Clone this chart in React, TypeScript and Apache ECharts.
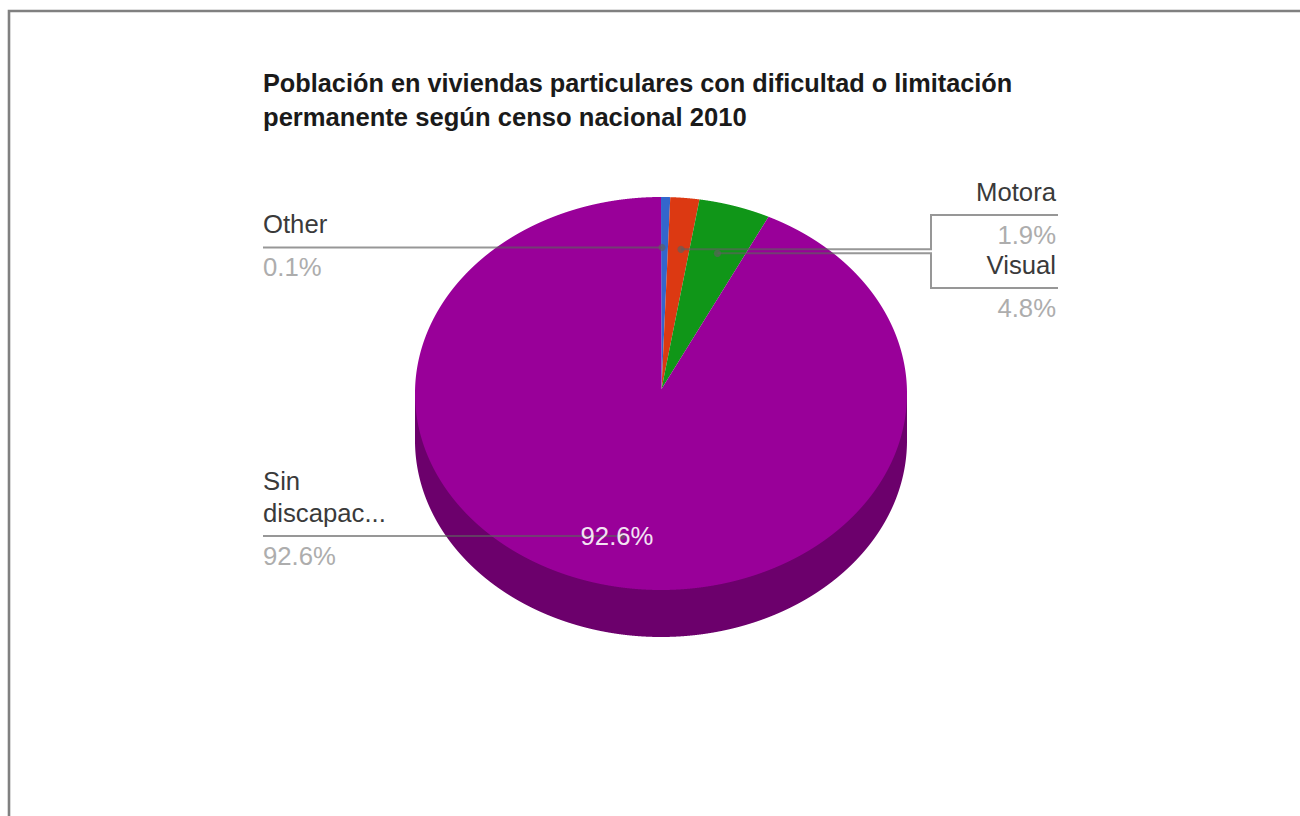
import React, { useEffect, useRef } from "react";
import * as echarts from "echarts";

const titleLines = [
  "Población en viviendas particulares con dificultad o limitación",
  "permanente según censo nacional 2010",
];
const sliceNames = ["Other", "Motora", "Visual", "Sin discapacidad"];
const sliceShares = [0.6, 1.9, 4.7, 92.8];
// Percentages as printed in the labels
const percentLabels = ["0.1%", "1.9%", "4.8%", "92.6%"];
const sliceColors = ["#3366cc", "#dc3912", "#109618", "#990099"];
const wallColor = "#6c006c";

const FONT = '"Liberation Sans", Arial, sans-serif';
const CX = 661;
const CY = 393.5;
const RX = 246;
const RY = 196.5;
const DEPTH = 47;
const APEX = [661.5, 389];
const NAME = "#3a3a3a";
const PCT = "#adadad";
const LINE = "#5f5f5f";
const LABEL_SIZE = 25.7;

const sum = sliceShares.reduce((a, b) => a + b, 0);

function arcPoints(from: number, to: number, dy = 0): number[][] {
  const steps = Math.max(4, Math.ceil((to - from) * 160));
  const out: number[][] = [];
  for (let i = 0; i <= steps; i++) {
    const t = ((from + ((to - from) * i) / steps) / sum) * 2 * Math.PI;
    out.push([CX + RX * Math.sin(t), CY + dy - RY * Math.cos(t)]);
  }
  return out;
}

function wallItem() {
  const lower = arcPoints(sum / 4, (sum * 3) / 4, DEPTH);
  const points = [[CX + RX, CY], ...lower, [CX - RX, CY]];
  return { type: "polygon", shape: { points }, style: { fill: wallColor } };
}

function sliceItem(params: any, api: any) {
  const i = params.dataIndex;
  let from = 0;
  for (let k = 0; k < i; k++) from += sliceShares[k];
  const to = from + (api.value(0) as number);
  return {
    type: "polygon",
    shape: { points: [APEX, ...arcPoints(from, to)] },
    style: { fill: sliceColors[i] },
  };
}

function line(points: number[][]) {
  return {
    type: "polyline",
    z: 50,
    shape: { points },
    style: { stroke: LINE, lineWidth: 2, fill: "none", opacity: 0.65 },
  };
}
function dot(x: number, y: number) {
  return {
    type: "circle",
    z: 51,
    shape: { cx: x, cy: y, r: 3.6 },
    style: { fill: LINE, opacity: 0.65 },
  };
}
function label(text: string, x: number, y: number, fill: string, align = "left") {
  return {
    type: "text",
    z: 60,
    x,
    y,
    style: { text, fill, font: `${LABEL_SIZE}px ${FONT}`, align, verticalAlign: "middle" },
  };
}

export default function App() {
  const ref = useRef<HTMLDivElement>(null);
  useEffect(() => {
    const chart = echarts.init(ref.current!, undefined, { renderer: "svg" });
    chart.setOption({
      animation: false,
      backgroundColor: "#ffffff",
      title: {
        text: titleLines[0],
        subtext: titleLines[1],
        left: 263,
        top: 70,
        padding: 0,
        itemGap: 9,
        textStyle: {
          fontFamily: FONT,
          fontWeight: "bold",
          fontSize: 25.3,
          color: "#1a1a1a",
        },
        subtextStyle: {
          fontFamily: FONT,
          fontWeight: "bold",
          fontSize: 25.6,
          color: "#1a1a1a",
        },
      },
      series: [
        {
          type: "custom",
          coordinateSystem: "none",
          silent: true,
          data: [[sliceShares[3]]],
          renderItem: wallItem,
        },
        {
          type: "custom",
          coordinateSystem: "none",
          silent: true,
          data: sliceShares.map((v, i) => ({ name: sliceNames[i], value: [v] })),
          renderItem: sliceItem,
        },
      ],
      graphic: [
        {
          type: "polyline",
          shape: { points: [[9, 816], [9, 11], [1300, 11]] },
          style: { stroke: "#808080", lineWidth: 2.6, fill: "none" },
          z: 40,
        },
        line([[263, 247.5], [662, 247.5]]),
        dot(662, 247.5),
        line([[1058, 215], [931, 215], [931, 249.3], [681, 249.3]]),
        dot(681, 249.3),
        line([[1058, 288], [931, 288], [931, 253.3], [717.5, 253.3]]),
        dot(717.5, 253.3),
        line([[263, 536], [622, 536]]),
        dot(622, 536),
        label(sliceNames[0], 263, 224, NAME),
        label(percentLabels[0], 263, 267, PCT),
        label(sliceNames[1], 1056, 192, NAME, "right"),
        label(percentLabels[1], 1056, 235, PCT, "right"),
        label(sliceNames[2], 1056, 265, NAME, "right"),
        label(percentLabels[2], 1056, 307.5, PCT, "right"),
        label("Sin", 263, 481, NAME),
        label("discapac...", 263, 513, NAME),
        label(percentLabels[3], 263, 555.5, PCT),
        label(percentLabels[3], 617, 536, "#f3e3f3", "center"),
      ],
    });
    return () => chart.dispose();
  }, []);
  return (
    <div
      ref={ref}
      style={{ position: "absolute", left: 0, top: 0, width: 1300, height: 816, overflow: "hidden" }}
    />
  );
}
